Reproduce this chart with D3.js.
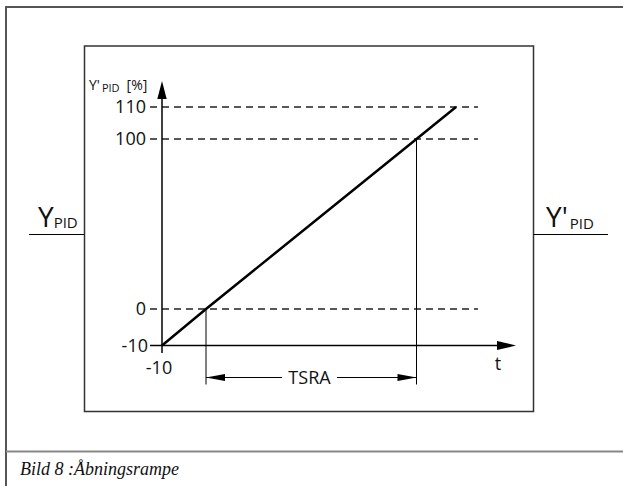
<!DOCTYPE html>
<html><head><meta charset="utf-8">
<script src="https://cdn.jsdelivr.net/npm/d3@7"></script>
<style>
html,body{margin:0;padding:0;background:#fff;}
svg{display:block;}
.sans{font-family:"Open Sans","DejaVu Sans",sans-serif;}
</style></head>
<body>
<script>
// ---- data ----
const yTickValues = [-10, 0, 100, 110];
const yTickLabels = ["-10", "0", "100", "110"];
const dashedLevels = [0, 100, 110];
const rampT = [-10, 0, 100, 110];
const rampY = [-10, 0, 100, 110];
const xTickValues = [-10];
const xTickLabels = ["-10"];
const spanStart = 0, spanEnd = 100;
const spanLabel = "TSRA";
const caption = "Bild 8 :Åbningsrampe";

const W = 623, H = 486;
const svg = d3.select("body").append("svg").attr("width", W).attr("height", H);

// schematic (piecewise) scales
const x = d3.scaleLinear().domain([-10, 0, 100, 110]).range([162, 206, 416.5, 456]);
const y = d3.scaleLinear().domain([-10, 0, 100, 110]).range([345.5, 309, 139, 107]);

// outer frame
svg.append("path").attr("d", "M6,486 V7 H623").attr("fill", "none")
  .attr("stroke", "#555").attr("stroke-width", 2);
svg.append("line").attr("x1", 6).attr("x2", 623).attr("y1", 451.5).attr("y2", 451.5)
  .attr("stroke", "#888").attr("stroke-width", 2);
svg.append("text").attr("x", 20).attr("y", 475)
  .attr("font-family", "'Liberation Serif','DejaVu Serif',serif").attr("font-style", "italic")
  .attr("font-size", 18).attr("fill", "#111").text(caption);

// inner box
svg.append("rect").attr("x", 84.5).attr("y", 46).attr("width", 449).attr("height", 365.5)
  .attr("fill", "none").attr("stroke", "#333").attr("stroke-width", 1.5);

// input / output lines
svg.append("line").attr("x1", 29).attr("x2", 84.5).attr("y1", 234.5).attr("y2", 234.5)
  .attr("stroke", "#000").attr("stroke-width", 1.2);
svg.append("line").attr("x1", 533.5).attr("x2", 608).attr("y1", 234.5).attr("y2", 234.5)
  .attr("stroke", "#000").attr("stroke-width", 1.2);

const tIn = svg.append("text").attr("class", "sans").attr("x", 38).attr("y", 227).attr("fill", "#111");
tIn.append("tspan").attr("font-size", 28).text("Y");
tIn.append("tspan").attr("font-size", 15).attr("dy", 1).text("PID");
const tOut = svg.append("text").attr("class", "sans").attr("x", 546).attr("y", 227).attr("fill", "#111");
tOut.append("tspan").attr("font-size", 28).text("Y'");
tOut.append("tspan").attr("font-size", 15).attr("dy", 2).attr("dx", 2).text("PID");

const g = svg.append("g");

// dashed reference lines
g.selectAll("line.dash").data(dashedLevels).enter().append("line")
  .attr("x1", 150).attr("x2", 478)
  .attr("y1", d => y(d)).attr("y2", d => y(d))
  .attr("stroke", "#222").attr("stroke-width", 1.3).attr("stroke-dasharray", "7,5");

// y tick labels
g.selectAll("text.yt").data(yTickValues).enter().append("text")
  .attr("class", "sans").attr("text-anchor", "end")
  .attr("x", (d, i) => d === -10 ? 148 : 146)
  .attr("y", d => y(d)).attr("dy", "0.36em")
  .attr("font-size", 18).attr("fill", "#111")
  .text((d, i) => yTickLabels[i]);

// x axis
const x0 = x(-10), yBase = y(-10);
g.append("line").attr("x1", 150).attr("x2", 500).attr("y1", yBase).attr("y2", yBase)
  .attr("stroke", "#000").attr("stroke-width", 1.5);
g.append("path").attr("d", `M516,${yBase} L497,${yBase - 4.5} L497,${yBase + 4.5} Z`).attr("fill", "#000");
// y axis
g.append("line").attr("x1", x0).attr("x2", x0).attr("y1", 353).attr("y2", 95)
  .attr("stroke", "#000").attr("stroke-width", 1.5);
g.append("path").attr("d", `M${x0},81 L${x0 - 4.7},99 L${x0 + 4.7},99 Z`).attr("fill", "#000");

// x tick labels
g.selectAll("text.xt").data(xTickValues).enter().append("text")
  .attr("class", "sans").attr("text-anchor", "middle")
  .attr("x", d => x(d) - 3).attr("y", 374)
  .attr("font-size", 18).attr("fill", "#111")
  .text((d, i) => xTickLabels[i]);
g.append("text").attr("class", "sans").attr("x", 498).attr("y", 370).attr("text-anchor", "middle")
  .attr("font-size", 18).attr("fill", "#111").text("t");

// axis title
const yt = g.append("text").attr("class", "sans").attr("x", 89).attr("y", 90).attr("fill", "#111");
yt.append("tspan").attr("font-size", 14).text("Y'");
yt.append("tspan").attr("font-size", 11).attr("dx", 2).attr("dy", 1.5).text("PID");
yt.append("tspan").attr("font-size", 14).attr("dx", 7).attr("dy", -1.5).text("[%]");

// ramp
const line = d3.line().x((d, i) => x(rampT[i])).y(d => y(d));
g.append("path").datum(rampY).attr("d", line).attr("fill", "none")
  .attr("stroke", "#000").attr("stroke-width", 2.5);

// vertical markers and TSRA span
const spanY = 377.5;
[spanStart, spanEnd].forEach(v => {
  g.append("line").attr("x1", x(v)).attr("x2", x(v)).attr("y1", y(v)).attr("y2", 384.5)
    .attr("stroke", "#000").attr("stroke-width", 1);
});
const xs = x(spanStart), xe = x(spanEnd);
g.append("line").attr("x1", xs).attr("x2", 282).attr("y1", spanY).attr("y2", spanY).attr("stroke", "#000").attr("stroke-width", 1);
g.append("line").attr("x1", 337).attr("x2", xe).attr("y1", spanY).attr("y2", spanY).attr("stroke", "#000").attr("stroke-width", 1);
g.append("path").attr("d", `M${xs},${spanY} L${xs + 19},${spanY - 3.5} L${xs + 19},${spanY + 3.5} Z`).attr("fill", "#000");
g.append("path").attr("d", `M${xe},${spanY} L${xe - 19},${spanY - 3.5} L${xe - 19},${spanY + 3.5} Z`).attr("fill", "#000");
g.append("text").attr("class", "sans").attr("x", (282 + 337) / 2).attr("y", 384)
  .attr("text-anchor", "middle").attr("font-size", 18).attr("fill", "#111").text(spanLabel);
</script>
</body></html>
